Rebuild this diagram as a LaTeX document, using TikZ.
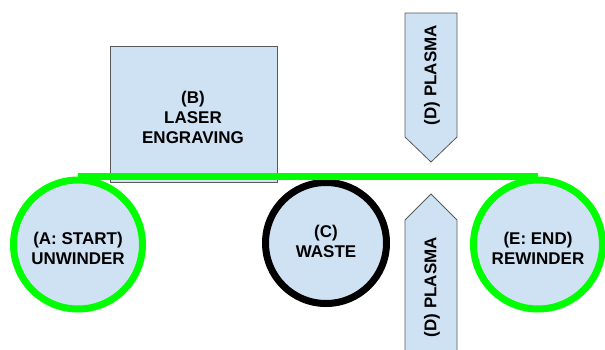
\documentclass[tikz,border=0pt]{standalone}
\usepackage{fontspec}
\setmainfont{Liberation Sans}
\definecolor{panelblue}{HTML}{CFE2F3}
\definecolor{edgegray}{HTML}{595959}
\definecolor{webgreen}{HTML}{00FF00}
\begin{document}
\begin{tikzpicture}[x=1pt,y=-1pt,
  panel/.style={fill=panelblue, draw=edgegray, line width=0.8pt, line join=miter},
  roll/.style={circle, fill=panelblue, line width=7pt, inner sep=0pt},
  web/.style={draw=webgreen, line width=7pt},
  lbl/.style={font=\bfseries\fontsize{17}{20}\selectfont, align=center, text=black, inner sep=0pt}]
\useasboundingbox (0,0) rectangle (605,350);
\clip (0,0) rectangle (605,350);

% laser engraving station
\node[panel, anchor=north west, minimum width=167pt, minimum height=136pt, inner sep=0pt] (laser) at (110,46) {};
\node[lbl] (laserlbl) at (193,117) {(B)\\LASER\\ENGRAVING};

% rolls
\node[roll, draw=webgreen, minimum size=129pt] (unwinder) at (78,244.5) {};
\node[roll, draw=black, minimum size=121pt] (waste) at (326,243) {};
\node[roll, draw=webgreen, minimum size=129pt] (rewinder) at (538,244.5) {};
\node[lbl] (unwinderlbl) at (78,248) {(A: START)\\UNWINDER};
\node[lbl] (wastelbl) at (326,241) {(C)\\WASTE};
\node[lbl] (rewinderlbl) at (538,248) {(E: END)\\REWINDER};

% web running over the top of the rolls
\draw[web] (unwinder.north) -- (rewinder.north);

% plasma treatment heads, above and below the web
\draw[panel] (405,13) -- (457,13) -- (457,137) -- (431,162) -- (405,137) -- cycle;
\draw[panel] (431,194) -- (457,220) -- (457,362) -- (405,362) -- (405,220) -- cycle;
\node[lbl, rotate=90] (plasmatop) at (432,75) {(D) PLASMA};
\node[lbl, rotate=90] (plasmabottom) at (432,287) {(D) PLASMA};
\end{tikzpicture}
\end{document}
